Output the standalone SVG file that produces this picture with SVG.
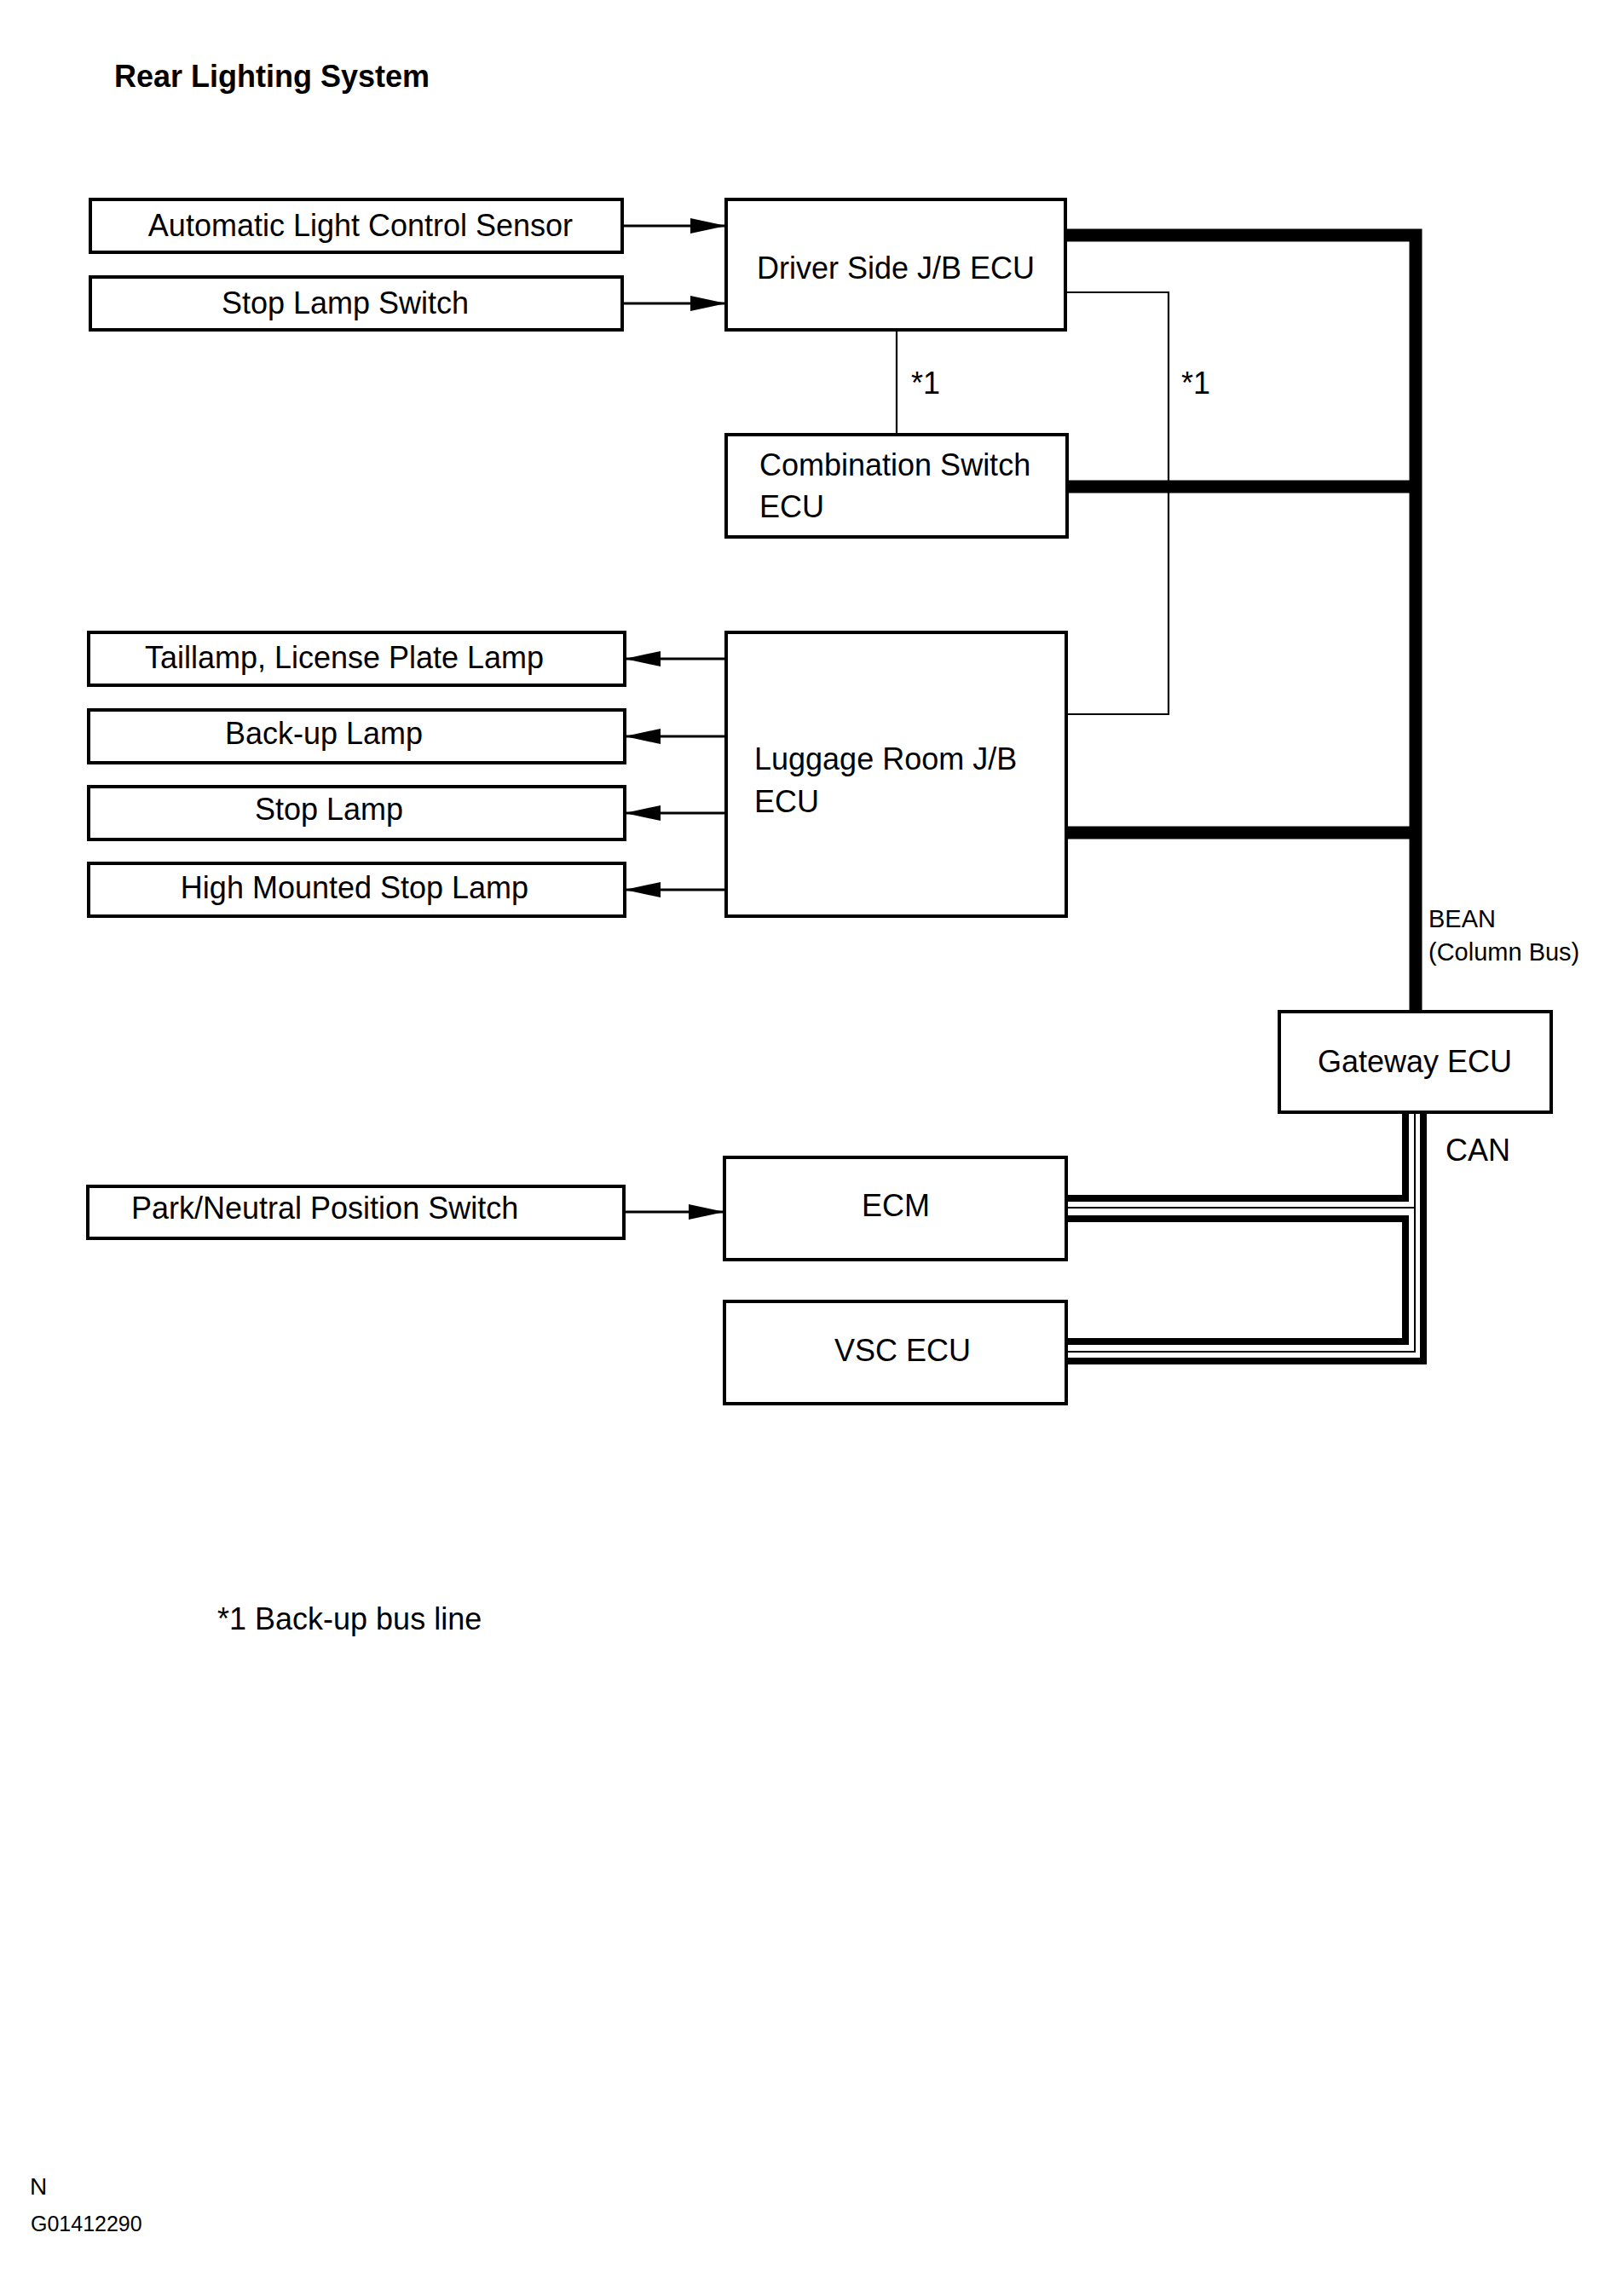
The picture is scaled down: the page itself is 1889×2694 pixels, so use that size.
<svg xmlns="http://www.w3.org/2000/svg" width="1889" height="2694" viewBox="0 0 1889 2694">
<style>
.box{fill:#fff;stroke:#000;stroke-width:4}
.t{font-family:"Liberation Sans",Arial,Helvetica,sans-serif;font-size:36px;fill:#000}
.m{text-anchor:middle}
.arrow{fill:none;stroke:#000;stroke-width:3}
.thin{fill:none;stroke:#000;stroke-width:2.2}
.bus{fill:none;stroke:#000;stroke-width:15;stroke-linejoin:miter}
.can{fill:none;stroke:#000;stroke-width:8;stroke-linejoin:miter}
.canc{fill:none;stroke:#000;stroke-width:2}
</style>
<defs>
<marker id="ah" markerUnits="userSpaceOnUse" markerWidth="42" markerHeight="18" refX="42" refY="9" orient="auto">
<path d="M0,0 L42,9 L0,18 z" fill="#000"/>
</marker>
</defs>
<rect width="1889" height="2694" fill="#fff"/>
<text class="t" x="134" y="102" style="font-weight:bold">Rear Lighting System</text>

<g id="connectors">
<line class="arrow" x1="730" y1="265" x2="852" y2="265" marker-end="url(#ah)"/>
<line class="arrow" x1="730" y1="356" x2="852" y2="356" marker-end="url(#ah)"/>
<line class="arrow" x1="852" y1="773" x2="733" y2="773" marker-end="url(#ah)"/>
<line class="arrow" x1="852" y1="864" x2="733" y2="864" marker-end="url(#ah)"/>
<line class="arrow" x1="852" y1="954" x2="733" y2="954" marker-end="url(#ah)"/>
<line class="arrow" x1="852" y1="1044" x2="733" y2="1044" marker-end="url(#ah)"/>
<line class="arrow" x1="732" y1="1422" x2="850" y2="1422" marker-end="url(#ah)"/>
<path class="thin" d="M1052,387 V510"/>
<path class="thin" d="M1250,343 H1371 V838 H1251"/>
<path class="bus" d="M1250,276 H1661 V1187"/>
<path class="bus" d="M1252,571 H1661"/>
<path class="bus" d="M1251,977 H1661"/>
<path class="can" d="M1649,1305 V1406 H1251"/>
<path class="can" d="M1251,1430 H1649 V1574 H1251"/>
<path class="can" d="M1670,1305 V1597 H1251"/>
<path class="canc" d="M1660,1305 V1586 H1251"/>
<path class="canc" d="M1660,1417 H1251"/>
</g>

<g id="n-alcs"><rect class="box" x="106" y="234" width="624" height="62"/><text class="t m" x="423" y="277">Automatic Light Control Sensor</text></g>
<g id="n-sls"><rect class="box" x="106" y="325" width="624" height="62"/><text class="t m" x="405" y="368">Stop Lamp Switch</text></g>
<g id="n-ds"><rect class="box" x="852" y="234" width="398" height="153"/><text class="t m" x="1051" y="327">Driver Side J/B ECU</text></g>
<g id="n-cs"><rect class="box" x="852" y="510" width="400" height="120"/><text class="t" x="891" y="558">Combination Switch</text><text class="t" x="891" y="607">ECU</text></g>
<g id="n-tail"><rect class="box" x="104" y="742" width="629" height="62"/><text class="t m" x="404" y="784">Taillamp, License Plate Lamp</text></g>
<g id="n-backup"><rect class="box" x="104" y="833" width="629" height="62"/><text class="t m" x="380" y="873">Back-up Lamp</text></g>
<g id="n-stop"><rect class="box" x="104" y="923" width="629" height="62"/><text class="t m" x="386" y="962">Stop Lamp</text></g>
<g id="n-hmsl"><rect class="box" x="104" y="1013" width="629" height="62"/><text class="t m" x="416" y="1054">High Mounted Stop Lamp</text></g>
<g id="n-lug"><rect class="box" x="852" y="742" width="399" height="333"/><text class="t" x="885" y="903">Luggage Room J/B</text><text class="t" x="885" y="953">ECU</text></g>
<g id="n-gw"><rect class="box" x="1501" y="1187" width="319" height="118"/><text class="t m" x="1660" y="1258">Gateway ECU</text></g>
<g id="n-pnps"><rect class="box" x="103" y="1392" width="629" height="61"/><text class="t" x="154" y="1430">Park/Neutral Position Switch</text></g>
<g id="n-ecm"><rect class="box" x="850" y="1358" width="401" height="120"/><text class="t m" x="1051" y="1427">ECM</text></g>
<g id="n-vsc"><rect class="box" x="850" y="1527" width="401" height="120"/><text class="t m" x="1059" y="1597">VSC ECU</text></g>

<g id="labels">
<text class="t" x="1069" y="462">*1</text>
<text class="t" x="1386" y="462">*1</text>
<text class="t" x="1676" y="1088" style="font-size:29px">BEAN</text>
<text class="t" x="1676" y="1127" style="font-size:29px">(Column Bus)</text>
<text class="t" x="1696" y="1362">CAN</text>
<text class="t" x="255" y="1912">*1 Back-up bus line</text>
<text class="t" x="35" y="2575" style="font-size:28px">N</text>
<text class="t" x="36" y="2618" style="font-size:25px">G01412290</text>
</g>
</svg>
